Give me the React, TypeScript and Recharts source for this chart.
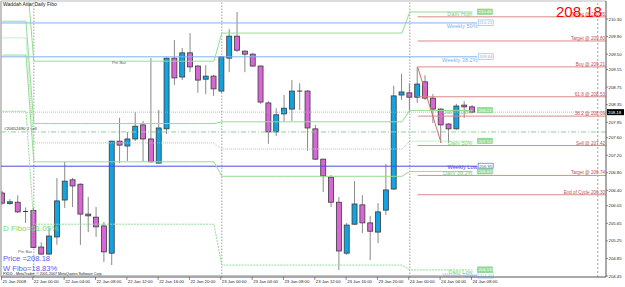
import { ComposedChart, Bar, Line, XAxis, YAxis, ReferenceLine } from 'recharts';

// hourly bars, 21 Jan 2008 20:00 -> 24 Jan 2008 08:00
const opens = [206.34, 206.10, 206.13, 205.92, 205.94, 205.11, 204.95, 205.34, 206.18, 206.64, 206.54, 205.86, 205.79, 205.59, 204.97, 207.52, 207.41, 207.57, 207.89, 207.57, 207.02, 207.80, 209.41, 208.98, 209.53, 209.23, 208.93, 209.00, 208.66, 209.41, 209.91, 209.57, 209.50, 209.23, 208.39, 207.73, 208.14, 208.25, 208.66, 208.66, 207.80, 207.11, 206.70, 206.13, 204.97, 205.63, 206.07, 205.66, 205.45, 205.95, 206.43, 208.57, 208.62, 208.52, 208.87, 208.50, 208.25, 207.91, 207.80, 208.34, 208.30];
const highs = [206.39, 206.20, 206.29, 206.01, 206.00, 205.22, 205.54, 206.68, 207.05, 206.68, 206.56, 206.25, 206.02, 205.68, 207.53, 208.05, 207.73, 208.18, 207.98, 209.41, 208.23, 209.42, 209.82, 209.64, 209.98, 209.25, 209.25, 209.03, 209.45, 210.07, 210.46, 209.58, 209.53, 209.24, 208.43, 208.27, 208.57, 208.91, 208.84, 208.68, 207.89, 207.12, 206.75, 206.25, 205.66, 206.61, 206.29, 205.82, 206.11, 207.00, 208.78, 209.05, 208.84, 209.21, 209.02, 208.59, 208.27, 207.93, 208.37, 208.43, 208.34];
const lows = [206.07, 206.07, 205.88, 205.66, 205.09, 204.93, 204.93, 205.16, 206.00, 206.02, 205.16, 205.45, 205.34, 204.77, 204.70, 207.02, 207.07, 207.52, 207.05, 207.04, 207.01, 207.68, 208.80, 208.91, 209.09, 208.62, 208.59, 208.55, 208.62, 209.09, 209.55, 209.09, 209.21, 208.37, 207.46, 207.64, 207.96, 207.98, 208.23, 207.30, 207.09, 206.36, 206.02, 204.59, 204.93, 205.61, 205.43, 204.81, 205.20, 205.84, 206.41, 208.46, 208.18, 208.39, 208.46, 207.93, 207.48, 207.48, 207.78, 208.05, 208.16];
const closes = [206.11, 206.14, 205.91, 205.91, 205.10, 204.95, 205.36, 206.16, 206.61, 206.50, 205.86, 205.82, 205.57, 205.00, 207.52, 207.43, 207.57, 207.86, 207.57, 207.05, 207.82, 209.41, 208.96, 209.53, 209.21, 208.91, 209.00, 208.71, 209.44, 209.91, 209.59, 209.50, 209.23, 208.41, 207.73, 208.12, 208.27, 208.66, 208.65, 207.82, 207.11, 206.73, 206.13, 205.02, 205.61, 206.09, 205.66, 205.47, 205.91, 206.41, 208.55, 208.64, 208.52, 208.82, 208.50, 208.25, 207.89, 207.80, 208.32, 208.30, 208.18];

const tickIdx = [0, 4, 8, 12, 16, 20, 24, 28, 32, 36, 40, 44, 48, 52, 56, 60];
const tickLabels = ['21 Jan 2008', '22 Jan 00:00', '22 Jan 04:00', '22 Jan 08:00', '22 Jan 12:00', '22 Jan 16:00', '22 Jan 20:00', '23 Jan 00:00', '23 Jan 04:00', '23 Jan 08:00', '23 Jan 12:00', '23 Jan 16:00', '23 Jan 20:00', '24 Jan 00:00', '24 Jan 04:00', '24 Jan 08:00'];
const priceTicks = [210.30, 209.90, 209.50, 209.15, 208.75, 208.35, 207.95, 207.60, 207.20, 206.80, 206.40, 206.05, 205.65, 205.25, 204.85, 204.45];

// daily fibo levels, one value per day (21, 22, 23, 24 Jan)
const dayStarts = [0, 4, 28, 52];
const dHigh = [211.51, 209.34, 209.98, 210.46];
const d618 = [210.25, 207.92, 207.96, 208.22];
const d50 = [209.87, 207.48, 207.34, 207.52];
const d382 = [209.48, 207.05, 206.72, 206.83];
const dLow = [208.20, 205.63, 204.70, 204.59];

const weekly = [
  { name: 'Weekly 50%', value: 210.21, color: '#7fb2ee', dy: 5.5 },
  { name: 'Weekly 38.2%', value: 209.44, color: '#7fb2ee', dy: 5.5 },
  { name: 'Weekly Low', value: 206.95, color: '#4a4ae6', dy: 3 },
  { name: 'Weekly Target', value: 204.46, color: '#9cc4ee', dy: 1.5 },
];
const targets = [
  { name: 'Target @  210.35', value: 210.35 },
  { name: 'Target @  209.80', value: 209.80 },
  { name: 'Buy  @  209.21', value: 209.21 },
  { name: '61.8 @ 208.53', value: 208.53 },
  { name: '38.2 @ 208.09', value: 208.09 },
  { name: 'Sell  @  207.42', value: 207.42 },
  { name: 'Target @  206.74', value: 206.74 },
  { name: 'End of Cycle  206.30', value: 206.30 },
];
const lastPrice = 208.18;
const orderLevel = 207.73;

const X_MIN = -0.19;
const X_MAX = 77.05;
const FONT = 'Liberation Sans, Arial, sans-serif';

const data = opens.map((o, i) => {
  let d = 0;
  dayStarts.forEach((s, k) => { if (i >= s) d = k; });
  return {
    i, o, h: highs[i], l: lows[i], c: closes[i], range: [lows[i], highs[i]],
    dh: dHigh[d], d618: d618[d], d50: d50[d], d382: d382[d], dl: dLow[d],
  };
});

const Candle = (props: any) => {
  const { x, y, width, height, payload } = props;
  const { o, h, l, c } = payload;
  const k = (v: number) => y + ((h - v) / (h - l || 1)) * height;
  const cx = x + width / 2;
  const top = k(Math.max(o, c));
  const bot = k(Math.min(o, c));
  const up = c >= o;
  return (
    <g>
      <line x1={cx} x2={cx} y1={y} y2={y + height} stroke="#8a8a8a" strokeWidth={1} />
      {bot - top < 1 ? (
        <line x1={x} x2={x + width} y1={top} y2={top} stroke="#333" strokeWidth={1} />
      ) : (
        <rect x={x} y={top} width={width} height={bot - top} fill={up ? '#12a3e2' : '#d866d6'} stroke="#3a3a3a" strokeWidth={0.8} />
      )}
    </g>
  );
};

const TimeTick = (props: any) => {
  const { x, y, payload } = props;
  const idx = tickIdx.indexOf(payload.value);
  return (
    <g>
      <line x1={x - 1} x2={x - 1} y1={y} y2={y + 3} stroke="#444" strokeWidth={0.6} />
      <text x={x} y={y + 5.5} fontSize={4.3} fontFamily={FONT} fill="#222" textAnchor="start">{tickLabels[idx]}</text>
    </g>
  );
};

const PriceTick = (props: any) => {
  const { x, y, payload } = props;
  return (
    <g>
      <line x1={x} x2={x + 2} y1={y} y2={y} stroke="#444" strokeWidth={0.6} />
      <text x={x + 2.5} y={y + 1.5} fontSize={4.3} fontFamily={FONT} fill="#222">{payload.value.toFixed(2)}</text>
    </g>
  );
};

const lineLabel = (name: string, price: string, color: string, box: string) => (p: any) => {
  if (p.index !== data.length - 1) return null;
  const x = p.x;
  const y = p.y;
  return (
    <g>
      <text x={x} y={y + 4} fontSize={5.5} fontFamily={FONT} fill={color} textAnchor="end">{name}</text>
      <rect x={x + 5} y={y - 3} width={15} height={5.5} fill={box} stroke={color} strokeWidth={0.5} />
      <text x={x + 6} y={y + 1.5} fontSize={4.3} fontFamily={FONT} fill="#fff">{price}</text>
    </g>
  );
};

const dailyLines = [
  { key: 'dh', name: 'Daily High', dash: undefined },
  { key: 'd618', name: 'Daily 61.8%', dash: undefined },
  { key: 'd50', name: 'Daily 50%', dash: '1 1' },
  { key: 'd382', name: 'Daily 38.2%', dash: undefined },
  { key: 'dl', name: 'Daily Low', dash: '2 1' },
];

export default function App() {
  const last = data[data.length - 1] as any;
  return (
    <div style={{ position: 'relative', width: 625, height: 287, background: '#fff', fontFamily: FONT }}>
      <style>{'body{margin:0}'}</style>
      <ComposedChart width={625} height={287} data={data} margin={{ top: 1, right: 0, bottom: 1, left: 1 }}>
        <XAxis dataKey="i" type="number" domain={[X_MIN, X_MAX]} ticks={tickIdx} tick={<TimeTick />} tickLine={false} tickSize={0} tickMargin={0} height={9} stroke="#555" allowDataOverflow interval={0} />
        <YAxis orientation="right" type="number" domain={[204.428, 210.71]} ticks={priceTicks} tick={<PriceTick />} tickLine={false} tickSize={0} tickMargin={0} width={19} stroke="#555" allowDataOverflow interval={0} />
        <ReferenceLine x={X_MIN} stroke="#888" />
        <ReferenceLine y={210.71} stroke="#bbb" />
        {dayStarts.slice(1).map((s) => (
          <ReferenceLine key={s} x={s} stroke="#777" strokeDasharray="1.5 1.5" strokeWidth={0.7} />
        ))}
        <ReferenceLine x={76} stroke="#777" strokeDasharray="2 2" strokeWidth={0.7} />
        {weekly.map((w) => (
          <ReferenceLine key={w.name} segment={[{ x: X_MIN, y: w.value }, { x: 60.6, y: w.value }]} stroke={w.color} strokeWidth={1}
            label={(p: any) => (
              <g>
                <text x={p.viewBox.x + p.viewBox.width + 0.5} y={p.viewBox.y + w.dy} fontSize={5.6} fontFamily={FONT} fill={w.color} textAnchor="end">{w.name}</text>
                <rect x={p.viewBox.x + p.viewBox.width + 1} y={p.viewBox.y - 3} width={15} height={5.5} fill="#fff" stroke={w.color} strokeWidth={0.6} />
                <text x={p.viewBox.x + p.viewBox.width + 2} y={p.viewBox.y + 1.5} fontSize={4.3} fontFamily={FONT} fill={w.color}>{w.value.toFixed(2)}</text>
              </g>
            )} />
        ))}
        <ReferenceLine y={lastPrice} stroke="#aaa" strokeDasharray="1 1" strokeWidth={0.8}
          label={(p: any) => (
            <g>
              <rect x={p.viewBox.x + p.viewBox.width + 1} y={p.viewBox.y - 3} width={17} height={6} fill="#000" />
              <text x={p.viewBox.x + p.viewBox.width + 2} y={p.viewBox.y + 1.5} fontSize={4.3} fontFamily={FONT} fill="#fff">{lastPrice.toFixed(2)}</text>
            </g>
          )} />
        <ReferenceLine y={orderLevel} stroke="#8fd0a0" strokeDasharray="5 2 1 2" strokeWidth={1}
          label={(p: any) => (
            <text x={p.viewBox.x + 3} y={p.viewBox.y - 1.5} fontSize={4.3} fontFamily={FONT} fill="#333">#20652490 2 sell</text>
          )} />
        {targets.map((t) => (
          <ReferenceLine key={t.name} segment={[{ x: 53, y: t.value }, { x: X_MAX, y: t.value }]} stroke="#d98a8a" strokeWidth={1}
            label={(p: any) => (
              <text x={p.viewBox.x + p.viewBox.width - 1} y={p.viewBox.y - 1} fontSize={4.6} fontFamily={FONT} fill="#c0504d" textAnchor="end">{t.name}</text>
            )} />
        ))}
        <ReferenceLine segment={[{ x: 53, y: highs[53] }, { x: 56, y: lows[56] }]} stroke="#d46a6a" strokeWidth={1} />
        {dailyLines.map((dl) => (
          <Line key={dl.key} dataKey={dl.key} type="linear" stroke="#93dc93" strokeWidth={1} strokeDasharray={dl.dash} dot={false}
            isAnimationActive={false}
            label={lineLabel(dl.name, (last[dl.key] as number).toFixed(2), '#7ccf7c', '#93dc93')} />
        ))}
        <Bar dataKey="range" barSize={5} shape={<Candle />} isAnimationActive={false} />
      </ComposedChart>
      <div style={{ position: 'absolute', left: 3, top: 1, fontSize: 5, color: '#222' }}>Waddah Attar Daily Fibo</div>
      <div style={{ position: 'absolute', left: 112, top: 60, fontSize: 4.3, color: '#666' }}>Pin Bar</div>
      <div style={{ position: 'absolute', left: 18, top: 249, fontSize: 4.3, color: '#666' }}>Pin Bar</div>
      <div style={{ position: 'absolute', left: 3, top: 224, fontSize: 8, color: '#7cd67c' }}>D Fibo=51.05%</div>
      <div style={{ position: 'absolute', left: 3, top: 254, fontSize: 7.6, color: '#5a5af0' }}>Price =208.18</div>
      <div style={{ position: 'absolute', left: 3, top: 264, fontSize: 7.6, color: '#5a5af0' }}>W Fibo=18.83%</div>
      <div style={{ position: 'absolute', left: 3, top: 272, fontSize: 3.6, color: '#222', whiteSpace: 'nowrap' }}>FXDD - MetaTrader, © 2001-2007 MetaQuotes Software Corp.</div>
      <div style={{ position: 'absolute', left: 556, top: 2, fontSize: 15, color: '#f00', fontFamily: 'Liberation Sans, Arial', lineHeight: '20px' }}>208.18</div>
    </div>
  );
}
